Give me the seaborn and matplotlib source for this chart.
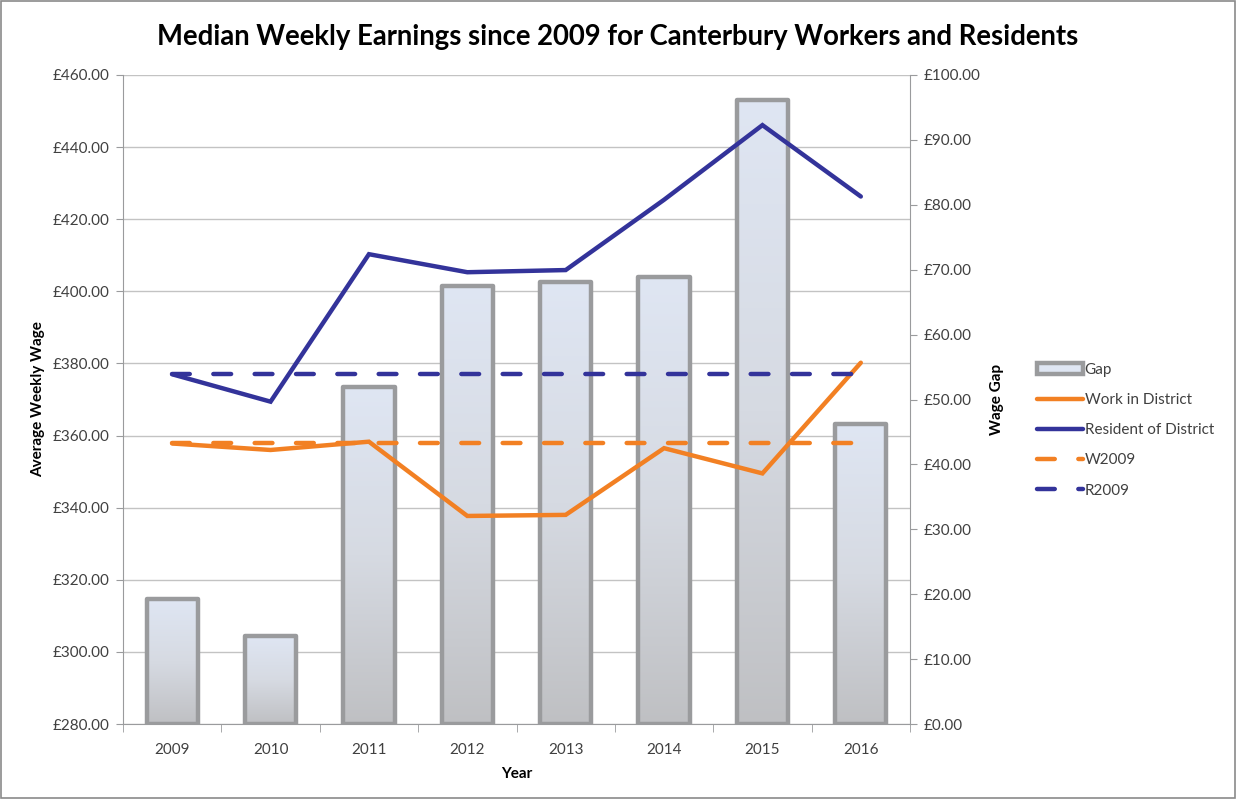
import numpy as np
import matplotlib
matplotlib.use('Agg')
import matplotlib.pyplot as plt
import seaborn as sns
from matplotlib.colors import LinearSegmentedColormap
from matplotlib.patches import Patch, Rectangle

# values
years = [2009, 2010, 2011, 2012, 2013, 2014, 2015, 2016]
work = [357.8, 356.0, 358.3, 337.7, 338.0, 356.5, 349.5, 380.2]
resident = [377.0, 369.4, 410.3, 405.3, 405.9, 425.4, 446.1, 426.3]
gap = [19.2, 13.5, 51.9, 67.5, 68.1, 68.9, 96.2, 46.2]
w2009 = [357.8, 357.8, 357.8, 357.8, 357.8, 357.8, 357.8, 357.8]
r2009 = [377.0, 377.0, 377.0, 377.0, 377.0, 377.0, 377.0, 377.0]
left_ticks = [280, 300, 320, 340, 360, 380, 400, 420, 440, 460]
right_ticks = [0, 10, 20, 30, 40, 50, 60, 70, 80, 90, 100]

orange = '#f28023'
navy = '#33339a'
grey = '#9a9b9d'
txt = '#404040'

sns.set_style('white')
plt.rcParams['font.family'] = ['Lato', 'DejaVu Sans']

fig = plt.figure(figsize=(12.36, 7.99), dpi=100)
axg = fig.add_axes([123 / 1236, 1 - 724 / 799, (910 - 123) / 1236, (724 - 75) / 799])
ax2 = axg.twinx()
axl = axg.twinx()

# gridlines + left axis
axg.set_ylim(280, 460)
axg.set_yticks(left_ticks)
axg.set_yticklabels([f'£{v:.2f}' for v in left_ticks])
axg.grid(axis='y', color='#c3c3c3', lw=1)
axg.grid(axis='x', visible=False)

# bars on secondary axis
sns.barplot(x=years, y=gap, native_scale=True, width=0.52, ax=ax2,
            color='#dfe6f3', edgecolor=grey, linewidth=3.2)
cmap = LinearSegmentedColormap.from_list('g', ['#bfc0c3', '#d6dae2', '#dfe6f3'])
grad = np.linspace(0, 1, 256).reshape(-1, 1)
for p in ax2.patches:
    x0, y0, w, h = p.get_x(), p.get_y(), p.get_width(), p.get_height()
    im = ax2.imshow(grad, extent=[x0, x0 + w, y0, y0 + h], aspect='auto',
                    cmap=cmap, origin='lower', zorder=1, interpolation='bilinear')
    im.set_clip_path(p)
    p.set_facecolor('none')
    p.set_zorder(2)
    p.set_joinstyle('round')
ax2.set_ylim(0, 100)
ax2.set_yticks(right_ticks)
ax2.set_yticklabels([f'£{v:.2f}' for v in right_ticks])

# lines on primary scale
sns.lineplot(x=years, y=work, ax=axl, color=orange, lw=3.2, label='Work in District', legend=False)
sns.lineplot(x=years, y=resident, ax=axl, color=navy, lw=3.2, label='Resident of District', legend=False)
sns.lineplot(x=years, y=w2009, ax=axl, color=orange, lw=3.2, label='W2009', legend=False)
sns.lineplot(x=years, y=r2009, ax=axl, color=navy, lw=3.2, label='R2009', legend=False)
lines = axl.get_lines()
for ln in lines:
    ln.set_solid_capstyle('round')
    ln.set_solid_joinstyle('miter')
for ln in lines[2:]:
    ln.set_dashes((4, 5.3))
    ln.set_dash_capstyle('round')
axl.set_ylim(280, 460)
axl.yaxis.set_visible(False)
for s in axl.spines.values():
    s.set_visible(False)

# x axis
axg.set_xlim(2008.5, 2016.5)
axg.set_xticks(years)
axg.set_xticklabels([str(y) for y in years])
axg.set_xticks([y - 0.5 for y in years] + [2016.5], minor=True)
axg.tick_params(axis='x', which='major', length=0, pad=14, labelsize=11, labelcolor=txt)
axg.tick_params(axis='x', which='minor', length=6, direction='out', color=grey, bottom=True)
axg.tick_params(axis='y', length=5, direction='out', color=grey, labelsize=11, labelcolor=txt, left=True, pad=5)
ax2.tick_params(axis='y', length=5, direction='out', color=grey, labelsize=11, labelcolor=txt, right=True, pad=5)
ax2.tick_params(axis='x', length=0)

for s in ['top', 'right']:
    axg.spines[s].set_visible(False)
for s in ['left', 'bottom']:
    axg.spines[s].set_color(grey)
for s in ['top', 'left', 'bottom']:
    ax2.spines[s].set_visible(False)
ax2.spines['right'].set_color(grey)

axg.set_ylabel('Average Weekly Wage', fontweight='bold', fontsize=11, color='black', labelpad=5)
ax2.set_ylabel('Wage Gap', fontweight='bold', fontsize=11, color='black', labelpad=7)
axg.set_xlabel('Year', fontweight='bold', fontsize=11, color='black', labelpad=7)

fig.text(0.5, 1 - 37 / 799, 'Median Weekly Earnings since 2009 for Canterbury Workers and Residents',
         ha='center', va='center', fontsize=19.8, fontweight='bold', color='black')

handles = [Patch(facecolor='#dfe6f3', edgecolor=grey, lw=3.2, label='Gap')] + list(lines)
fig.legend(handles=handles, labels=['Gap', 'Work in District', 'Resident of District', 'W2009', 'R2009'],
           loc='upper left', bbox_to_anchor=(1023 / 1236, 1 - 349 / 799), frameon=False,
           fontsize=11, labelcolor=txt, handlelength=3.0, handletextpad=0.13, labelspacing=1.06)

fig.patches.append(Rectangle((0.001, 0.001), 0.998, 0.998, transform=fig.transFigure,
                             fill=False, edgecolor='#8a8a8a', lw=1.2))

fig.savefig('out.png', dpi=100)
